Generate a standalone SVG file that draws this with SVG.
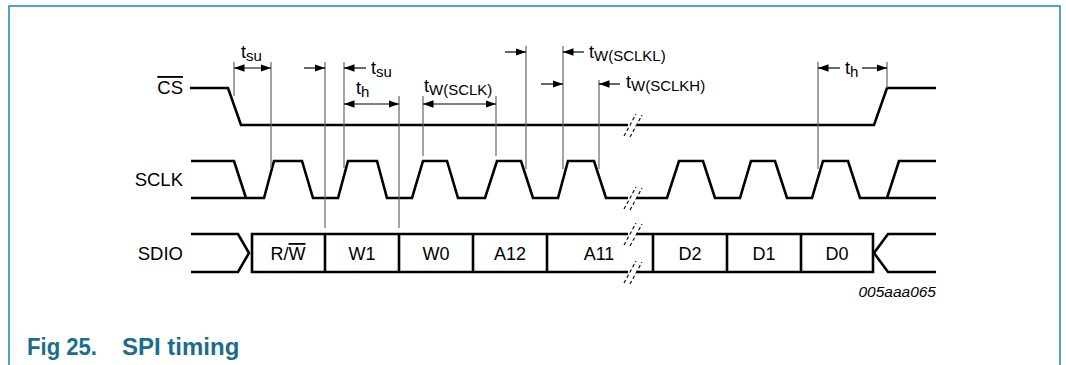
<svg xmlns="http://www.w3.org/2000/svg" width="1066" height="365" viewBox="0 0 1066 365">
<style>
.frame{fill:none;stroke:#1a87ad;stroke-width:1.5}
.wave{fill:none;stroke:#000;stroke-width:2.6;stroke-linejoin:miter}
.box{fill:#fff;stroke:#000;stroke-width:2.6}
.ref{stroke:#666;stroke-width:1.2}
.dim{stroke:#000;stroke-width:1.2;fill:none}
.brk{stroke:#000;stroke-width:1.1;stroke-dasharray:3.5,2.5;fill:none}
.sig{font-family:"Liberation Sans",Arial,sans-serif;font-size:18.5px;fill:#000}
.cell{font-family:"Liberation Sans",Arial,sans-serif;font-size:18px;fill:#000;text-anchor:middle}
.tl{font-family:"Liberation Sans",Arial,sans-serif;font-size:18px;fill:#000}
.sub{font-size:15px}
.code{font-family:"Liberation Sans",Arial,sans-serif;font-size:15.5px;font-style:italic;fill:#000;text-anchor:end}
.title{font-family:"Liberation Sans",Arial,sans-serif;font-size:24px;font-weight:bold;fill:#1c6c8c}
</style>
<defs>
<marker id="ah" markerUnits="userSpaceOnUse" markerWidth="11" markerHeight="8" refX="10.5" refY="3.75" orient="auto-start-reverse">
<path d="M0,0 L10.5,3.75 L0,7.5 z" fill="#000"/>
</marker>
</defs>
<rect width="1066" height="365" fill="#fff"/>
<path class="frame" d="M9,366 V6 H1060 V366"/>

<g id="cs">
<text class="sig" x="183" y="94" text-anchor="end"><tspan text-decoration="overline">CS</tspan></text>
<path class="wave" d="M190,88 H228 L241,125 H628 M637,125 H874 L887,88 H936"/>
</g>

<g id="sclk">
<text class="sig" x="183" y="186" text-anchor="end">SCLK</text>
<path class="wave" d="M191,161 H234 L246,198 M191,198 H264 L274,161 H302 L313,198 H338 L348,161 H377 L387,198 H412 L423,161 H447 L458,198 H485 L497,161 H521 L533,198 H558 L568,161 H594 L606,198 H628 M637,198 H667 L679,161 H703 L715,198 H740 L751,161 H775 L787,198 H812 L823,161 H848 L860,198 H936 M887,198 L899,161 H936"/>
</g>

<g id="sdio">
<text class="sig" x="183" y="260" text-anchor="end">SDIO</text>
<path class="wave" d="M191,234 H238 L249,253 L238,272 H191"/>
<path class="wave" d="M936,234 H888 L874,253 L888,272 H936"/>
<path class="box" d="M628,234 H252 V272 H628 M637,234 H873 V272 H637"/>
<path class="box" d="M325,234 V272 M399,234 V272 M473,234 V272 M547,234 V272 M653,234 V272 M727,234 V272 M801,234 V272"/>
<text class="cell" x="288" y="260">R/<tspan text-decoration="overline">W</tspan></text>
<text class="cell" x="362" y="260">W1</text>
<text class="cell" x="436" y="260">W0</text>
<text class="cell" x="510" y="260">A12</text>
<text class="cell" x="599" y="260">A11</text>
<text class="cell" x="690" y="260">D2</text>
<text class="cell" x="764" y="260">D1</text>
<text class="cell" x="837" y="260">D0</text>
</g>

<g id="breaks">
<path class="brk" d="M624,136 L636,114 M630,137 L642,115"/>
<path class="brk" d="M624,209 L636,187 M630,210 L642,188"/>
<path class="brk" d="M624,245 L636,223 M630,246 L642,224"/>
<path class="brk" d="M624,283 L636,261 M630,284 L642,262"/>
</g>

<g id="connectors">
<path class="ref" d="M234,62 V96 M271,62 V168 M325,62 V228 M344,62 V168 M399,96 V228 M423,96 V156 M496,96 V156 M526,46 V169 M563,46 V169 M599,80 V169 M818,62 V169 M887,62 V88"/>
<line class="dim" x1="234" y1="68" x2="271" y2="68" marker-start="url(#ah)" marker-end="url(#ah)"/>
<line class="dim" x1="304" y1="68" x2="325" y2="68" marker-end="url(#ah)"/>
<line class="dim" x1="366" y1="68" x2="344" y2="68" marker-end="url(#ah)"/>
<line class="dim" x1="344" y1="104" x2="399" y2="104" marker-start="url(#ah)" marker-end="url(#ah)"/>
<line class="dim" x1="423" y1="104" x2="496" y2="104" marker-start="url(#ah)" marker-end="url(#ah)"/>
<line class="dim" x1="505" y1="52" x2="526" y2="52" marker-end="url(#ah)"/>
<line class="dim" x1="584" y1="52" x2="563" y2="52" marker-end="url(#ah)"/>
<line class="dim" x1="541" y1="84" x2="563" y2="84" marker-end="url(#ah)"/>
<line class="dim" x1="620" y1="84" x2="599" y2="84" marker-end="url(#ah)"/>
<line class="dim" x1="840" y1="68" x2="818" y2="68" marker-end="url(#ah)"/>
<line class="dim" x1="862" y1="68" x2="887" y2="68" marker-end="url(#ah)"/>
</g>

<g id="labels">
<text class="tl" x="241" y="58">t<tspan class="sub" dy="3">su</tspan></text>
<text class="tl" x="371" y="74">t<tspan class="sub" dy="3">su</tspan></text>
<text class="tl" x="356" y="94">t<tspan class="sub" dy="3">h</tspan></text>
<text class="tl" x="424" y="92">t<tspan class="sub" dy="3">W(SCLK)</tspan></text>
<text class="tl" x="589" y="58">t<tspan class="sub" dy="3">W(SCLKL)</tspan></text>
<text class="tl" x="626" y="88">t<tspan class="sub" dy="3">W(SCLKH)</tspan></text>
<text class="tl" x="845" y="74">t<tspan class="sub" dy="3">h</tspan></text>
</g>

<text class="code" x="936" y="297">005aaa065</text>
<text class="title" x="27" y="355" textLength="70" lengthAdjust="spacingAndGlyphs">Fig 25.</text>
<text class="title" x="122" y="355">SPI timing</text>
</svg>
